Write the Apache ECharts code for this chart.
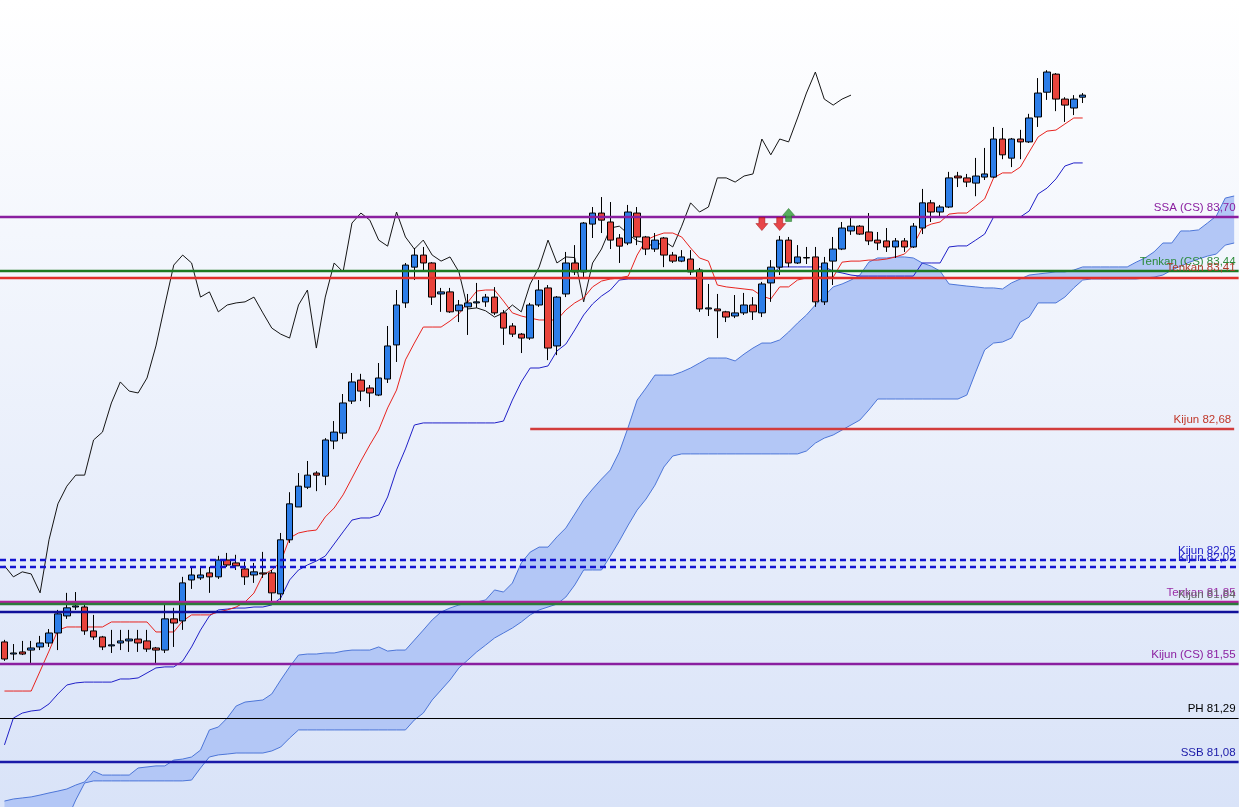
<!DOCTYPE html>
<html><head><meta charset="utf-8">
<script src="https://cdn.jsdelivr.net/npm/echarts@6.0.0/dist/echarts.min.js"></script>
<style>html,body{margin:0;padding:0;overflow:hidden;}#c{width:1239px;height:807px;}</style>
</head><body><div id="c"></div>
<script>
// ---- candles (index 0..121) ----
const opens = [
81.657,81.599,81.609,81.618,81.633,81.652,81.700,81.782,81.825,81.825,
81.710,81.681,81.638,81.652,81.662,81.671,81.662,81.628,81.618,81.768,
81.758,81.955,81.965,81.989,81.970,82.051,82.037,82.008,81.979,81.989,
81.989,81.888,82.148,82.306,82.401,82.469,82.454,82.623,82.661,82.815,
82.916,82.878,82.844,82.921,83.085,83.287,83.459,83.517,83.479,83.330,
83.340,83.249,83.268,83.287,83.292,83.315,83.239,83.176,83.137,83.118,
83.277,83.359,83.080,83.330,83.479,83.436,83.666,83.719,83.676,83.599,
83.575,83.719,83.604,83.546,83.599,83.517,83.488,83.498,83.445,83.258,
83.258,83.244,83.224,83.239,83.277,83.239,83.383,83.459,83.589,83.479,
83.503,83.508,83.292,83.488,83.546,83.633,83.656,83.628,83.589,83.585,
83.556,83.585,83.556,83.647,83.768,83.724,83.748,83.897,83.888,83.863,
83.892,83.892,84.075,83.983,84.075,84.061,84.181,84.300,84.387,84.267,
84.224,84.276];
const closes = [
81.575,81.604,81.599,81.628,81.652,81.700,81.792,81.821,81.830,81.710,
81.681,81.633,81.643,81.662,81.671,81.652,81.623,81.618,81.768,81.748,
81.941,81.979,81.979,81.970,82.051,82.027,82.023,81.970,81.994,81.984,
81.893,82.148,82.321,82.406,82.459,82.459,82.628,82.666,82.806,82.907,
82.863,82.854,82.926,83.080,83.277,83.469,83.517,83.479,83.315,83.340,
83.244,83.277,83.287,83.292,83.315,83.239,83.166,83.137,83.118,83.277,
83.349,83.070,83.315,83.479,83.436,83.671,83.719,83.685,83.589,83.560,
83.724,83.604,83.546,83.589,83.517,83.488,83.508,83.436,83.258,83.263,
83.249,83.219,83.239,83.277,83.244,83.378,83.459,83.589,83.479,83.508,
83.505,83.292,83.479,83.546,83.647,83.656,83.618,83.585,83.575,83.556,
83.585,83.556,83.656,83.768,83.724,83.748,83.888,83.888,83.868,83.897,
83.907,84.075,83.999,84.075,84.061,84.176,84.296,84.397,84.267,84.238,
84.267,84.286];
const lows = [
81.566,81.570,81.594,81.556,81.618,81.633,81.618,81.768,81.811,81.691,
81.667,81.618,81.604,81.618,81.609,81.609,81.609,81.556,81.604,81.633,
81.715,81.912,81.955,81.893,81.960,82.018,82.003,81.931,81.941,81.965,
81.849,81.859,82.133,82.306,82.392,82.382,82.411,82.584,82.632,82.801,
82.815,82.786,82.839,82.902,83.003,83.263,83.397,83.440,83.277,83.244,
83.239,83.195,83.133,83.263,83.268,83.229,83.085,83.123,83.046,83.109,
83.268,83.012,83.036,83.315,83.421,83.412,83.599,83.623,83.546,83.479,
83.565,83.565,83.517,83.532,83.459,83.479,83.483,83.421,83.244,83.224,
83.118,83.195,83.214,83.229,83.205,83.219,83.292,83.421,83.459,83.474,
83.474,83.268,83.277,83.373,83.541,83.614,83.614,83.565,83.541,83.532,
83.503,83.532,83.551,83.618,83.676,83.700,83.743,83.844,83.844,83.800,
83.878,83.888,83.978,83.940,83.978,84.056,84.133,84.263,84.209,84.157,
84.190,84.248];
const highs = [
81.667,81.647,81.662,81.662,81.686,81.719,81.811,81.893,81.897,81.840,
81.787,81.686,81.715,81.715,81.715,81.715,81.715,81.633,81.835,81.821,
81.970,82.018,82.013,82.018,82.071,82.085,82.076,82.042,82.037,82.090,
82.003,82.181,82.377,82.469,82.527,82.478,82.637,82.719,82.849,82.950,
82.946,82.892,82.998,83.176,83.349,83.479,83.551,83.556,83.483,83.359,
83.359,83.301,83.330,83.383,83.330,83.363,83.253,83.190,83.142,83.287,
83.397,83.373,83.320,83.532,83.565,83.676,83.748,83.796,83.772,83.618,
83.758,83.748,83.609,83.623,83.604,83.532,83.541,83.541,83.455,83.378,
83.330,83.249,83.325,83.335,83.315,83.388,83.493,83.609,83.604,83.565,
83.556,83.556,83.508,83.604,83.676,83.695,83.661,83.719,83.628,83.647,
83.599,83.599,83.671,83.835,83.782,83.758,83.917,83.917,83.907,83.984,
84.032,84.133,84.128,84.080,84.119,84.196,84.368,84.406,84.392,84.276,
84.286,84.296];

// ---- Ichimoku lines ----
const tenkan = [
81.421,81.421,81.421,81.421,81.517,81.613,81.714,81.729,81.729,81.729,
81.729,81.729,81.753,81.753,81.753,81.753,81.753,81.705,81.705,81.705,
81.758,81.787,81.787,81.787,81.801,81.811,81.825,81.849,81.892,81.979,
82.003,82.041,82.157,82.181,82.190,82.195,82.258,82.301,82.364,82.445,
82.527,82.604,82.676,82.782,82.868,83.013,83.094,83.171,83.171,83.171,
83.200,83.234,83.291,83.344,83.349,83.349,83.296,83.239,83.224,83.214,
83.205,83.205,83.205,83.253,83.287,83.311,83.364,83.392,83.402,83.407,
83.416,83.517,83.589,83.609,83.623,83.623,83.604,83.551,83.503,83.488,
83.373,83.364,83.359,83.354,83.349,83.320,83.306,83.364,83.364,83.397,
83.407,83.411,83.411,83.411,83.483,83.488,83.488,83.493,83.493,83.498,
83.508,83.522,83.565,83.647,83.666,83.676,83.714,83.719,83.719,83.753,
83.787,83.888,83.912,83.912,83.940,84.013,84.085,84.113,84.118,84.147,
84.176,84.176];
const kijun = [
81.162,81.291,81.315,81.325,81.330,81.359,81.407,81.450,81.460,81.464,
81.464,81.464,81.464,81.479,81.479,81.484,81.508,81.532,81.537,81.537,
81.565,81.633,81.714,81.782,81.811,81.815,81.820,81.820,81.825,81.825,
81.835,81.868,81.955,82.003,82.027,82.046,82.070,82.128,82.186,82.243,
82.253,82.253,82.267,82.354,82.484,82.585,82.700,82.710,82.710,82.710,
82.710,82.710,82.710,82.710,82.710,82.710,82.719,82.820,82.907,82.974,
82.974,82.984,83.056,83.089,83.157,83.229,83.282,83.320,83.349,83.397,
83.402,83.402,83.402,83.402,83.402,83.402,83.402,83.402,83.402,83.402,
83.402,83.402,83.402,83.402,83.402,83.402,83.416,83.460,83.460,83.460,
83.460,83.460,83.460,83.440,83.431,83.421,83.416,83.416,83.416,83.416,
83.416,83.416,83.416,83.479,83.479,83.479,83.556,83.561,83.561,83.589,
83.618,83.700,83.700,83.700,83.700,83.729,83.811,83.839,83.883,83.945,
83.960,83.960];
// cloud (index 0..138, projected forward)
const senkouA = [
80.892,80.902,80.907,80.912,80.921,80.931,80.940,80.950,80.969,80.984,
81.036,81.017,81.017,81.017,81.017,81.051,81.056,81.061,81.061,81.089,
81.094,81.104,81.137,81.234,81.248,81.291,81.349,81.368,81.373,81.378,
81.407,81.474,81.537,81.594,81.599,81.599,81.604,81.604,81.613,81.618,
81.618,81.618,81.633,81.613,81.618,81.618,81.666,81.714,81.763,81.801,
81.820,81.835,81.844,81.849,81.859,81.907,81.897,81.940,82.037,82.089,
82.113,82.113,82.162,82.205,82.272,82.340,82.392,82.440,82.484,82.570,
82.690,82.820,82.878,82.940,82.940,82.940,82.955,82.974,82.998,83.022,
83.022,83.022,83.008,83.041,83.070,83.094,83.094,83.109,83.147,83.190,
83.229,83.277,83.320,83.364,83.378,83.397,83.421,83.483,83.503,83.503,
83.508,83.508,83.503,83.479,83.464,83.440,83.378,83.373,83.368,83.364,
83.359,83.359,83.354,83.383,83.402,83.421,83.426,83.431,83.436,83.436,
83.445,83.460,83.460,83.460,83.460,83.460,83.460,83.483,83.503,83.532,
83.575,83.575,83.633,83.633,83.638,83.671,83.705,83.791,83.801];
const senkouB = [
80.801,80.801,80.801,80.801,80.801,80.801,80.801,80.801,80.897,80.979,
80.989,80.989,80.989,80.989,80.989,80.989,80.989,80.989,80.989,80.989,
80.989,80.993,81.051,81.104,81.114,81.118,81.123,81.123,81.123,81.123,
81.133,81.152,81.195,81.234,81.234,81.234,81.234,81.234,81.234,81.234,
81.234,81.234,81.234,81.234,81.234,81.234,81.282,81.315,81.378,81.426,
81.474,81.532,81.570,81.609,81.642,81.676,81.700,81.724,81.753,81.787,
81.811,81.825,81.839,81.873,81.931,82.003,82.003,82.003,82.070,82.142,
82.219,82.291,82.344,82.411,82.498,82.551,82.561,82.561,82.561,82.561,
82.561,82.561,82.561,82.561,82.561,82.561,82.561,82.561,82.561,82.561,
82.575,82.613,82.637,82.652,82.676,82.700,82.724,82.772,82.825,82.825,
82.825,82.825,82.825,82.825,82.825,82.825,82.825,82.825,82.844,82.955,
83.061,83.094,83.099,83.118,83.195,83.219,83.287,83.287,83.287,83.315,
83.359,83.397,83.402,83.402,83.402,83.402,83.402,83.402,83.407,83.411,
83.421,83.445,83.464,83.483,83.498,83.512,83.522,83.565,83.575];

// ---- horizontal levels ----
const levelNames  = ['SSA (CS) 83,70','Tenkan (CS) 83,44','Tenkan 83,41','Kijun 82,68','Kijun 82,05','Kijun 82,02','Tenkan 81,85','Kijun 81,84','','Kijun (CS) 81,55','PH 81,29','SSB 81,08'];
const levelValues = [83.70, 83.44, 83.41, 82.68, 82.05, 82.02, 81.85, 81.84, 81.80, 81.55, 81.29, 81.08];
const levelStart  = [null, null, null, 59, null, null, null, null, null, null, null, null];

// ---- signal arrows ----
const downArrowIdx = [85, 87];
const downArrowPrice = [83.666, 83.666];
const upArrowIdx = [88];
const upArrowPrice = [83.710];

const N_CAT = 139;
const cats = [];
for (let i = 0; i < N_CAT; i++) cats.push(String(i));

const candleData = opens.map((o, i) => [o, closes[i], lows[i], highs[i]]);
const chikou = closes.slice(26);
const cloudBand = senkouA.map((v, i) => +(v - senkouB[i]).toFixed(4));

const levelStyle = [
  {c:'#8a1fa0', w:2.4, t:'solid', lc:'#8a1fa0'},
  {c:'#1c7a22', w:2.4, t:'solid', lc:'#2b8a3a'},
  {c:'#e0302c', w:2.4, t:'solid', lc:'#b03a2a'},
  {c:'#d23c3c', w:2.4, t:'solid', lc:'#c0392b'},
  {c:'#1414d0', w:2.4, t:[6,4], lc:'#2020c8'},
  {c:'#1414d0', w:2.4, t:[6,4], lc:'#2020c8'},
  {c:'#b0209a', w:2.4, t:'solid', lc:'#9a2fa8'},
  {c:'#2c7a3a', w:2.4, t:'solid', lc:'#666666'},
  {c:'#10109a', w:2.4, t:'solid', lc:'#10109a'},
  {c:'#8a1fa0', w:2.4, t:'solid', lc:'#8a1fa0'},
  {c:'#000000', w:1.2, t:'solid', lc:'#000000'},
  {c:'#1a1aa8', w:2.4, t:'solid', lc:'#1a1aa8'}
];

const markData = levelValues.map((v, k) => {
  const st = levelStyle[k];
  const lbl = {show: levelNames[k] !== '', formatter: levelNames[k], position:'insideEndTop', color: st.lc,
               fontSize: 11.5, fontFamily: 'Liberation Sans, Arial, sans-serif', distance: [3, 3]};
  const ls = {color: st.c, width: st.w, type: st.t, opacity: 1};
  if (levelStart[k] !== null) {
    return [{coord:[String(levelStart[k]), v], lineStyle: ls, label: lbl}, {coord:[String(N_CAT-1), v]}];
  }
  return {yAxis: v, lineStyle: ls, label: lbl};
});

const chart = echarts.init(document.getElementById('c'), null, {renderer:'canvas'});
const cloudEdge = '#4d76d8';
chart.setOption({
  animation: false,
  backgroundColor: {type:'linear', x:0, y:0, x2:0, y2:1,
    colorStops:[{offset:0, color:'#ffffff'},{offset:1, color:'#d9e3f8'}]},
  grid: {left: -5.425, top: 0, width: 1244.05, height: 807, containLabel:false},
  xAxis: {type:'category', data: cats, boundaryGap: true, show:false},
  yAxis: {type:'value', min: 80.8635, max: 84.7433, show:false, splitLine:{show:false}},
  series: [
    {name:'SSB', type:'line', data: senkouB, stack:'cloud', symbol:'none', z:1,
     lineStyle:{color:cloudEdge, width:1}},
    {name:'SSA', type:'line', data: cloudBand, stack:'cloud', symbol:'none', z:1,
     lineStyle:{color:cloudEdge, width:1}, areaStyle:{color:'#b3c7f6', opacity:1}},
    {name:'Chikou', type:'line', data: chikou, symbol:'none', z:3,
     lineStyle:{color:'#151515', width:1}},
    {name:'Kijun', type:'line', data: kijun, symbol:'none', z:3,
     lineStyle:{color:'#2020c8', width:1}},
    {name:'Tenkan', type:'line', data: tenkan, symbol:'none', z:3,
     lineStyle:{color:'#e8231e', width:1}},
    {name:'Price', type:'candlestick', data: candleData, barWidth: 7, z:4,
     itemStyle:{color:'#2d7ee8', color0:'#e8443c', borderColor:'#000000', borderColor0:'#000000', borderWidth:1}},
    {name:'Levels', type:'line', data: [], z:6, silent:true,
     markLine:{symbol:['none','none'], silent:true, animation:false,
               lineStyle:{width:2.4, opacity:1}, emphasis:{disabled:true}, data: markData}},
    {name:'Sell', type:'scatter', z:7, data: downArrowIdx.map((x, k) => [String(x), downArrowPrice[k]]),
     symbol:'path://M3,0 L9,0 L9,6 L12,6 L6,13 L0,6 L3,6 Z', symbolSize:[12,13],
     itemStyle:{color:'#e3191b', borderColor:'#9a0c0c', borderWidth:0.6}},
    {name:'Buy', type:'scatter', z:7, data: upArrowIdx.map((x, k) => [String(x), upArrowPrice[k]]),
     symbol:'path://M6,0 L12,7 L9,7 L9,13 L3,13 L3,7 L0,7 Z', symbolSize:[12,13],
     itemStyle:{color:'#2f9c35', borderColor:'#1a6a1e', borderWidth:0.6}}
  ]
});
</script>
</body></html>
